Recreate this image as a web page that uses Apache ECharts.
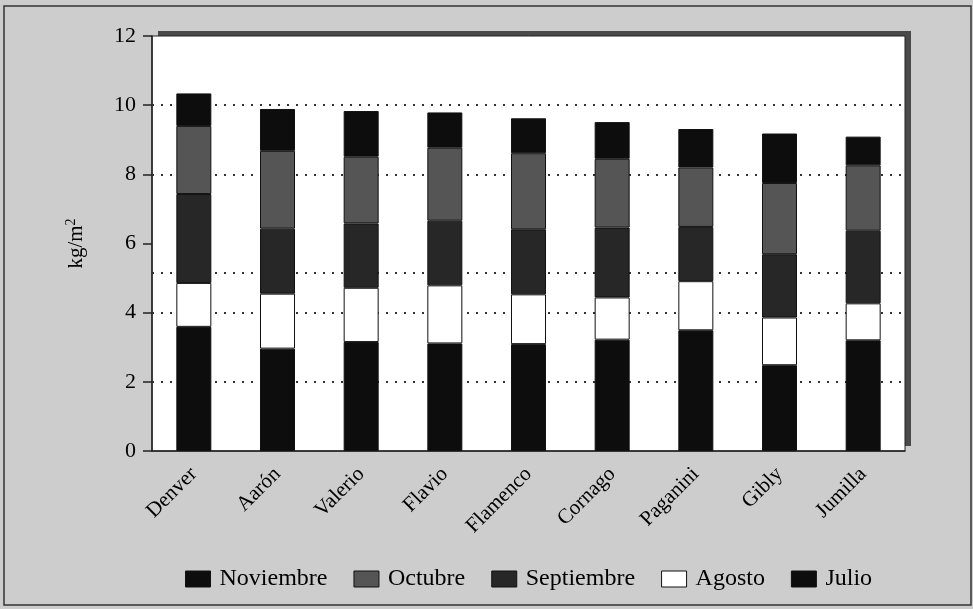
<!DOCTYPE html>
<html><head><meta charset="utf-8">
<script src="https://cdn.jsdelivr.net/npm/echarts@6/dist/echarts.min.js"></script>
<style>html,body{margin:0;padding:0;background:#cdcdcd}#c{width:973px;height:609px}</style>
</head><body><div id="c"></div>
<script>
const categories = ['Denver','Aarón','Valerio','Flavio','Flamenco','Cornago','Paganini','Gibly','Jumilla'];
const julio      = [3.59, 2.96, 3.15, 3.11, 3.09, 3.22, 3.49, 2.48, 3.20];
const agosto     = [1.27, 1.59, 1.57, 1.68, 1.44, 1.22, 1.42, 1.38, 1.07];
const septiembre = [2.57, 1.88, 1.86, 1.87, 1.88, 2.02, 1.57, 1.83, 2.10];
const octubre    = [1.97, 2.25, 1.93, 2.11, 2.20, 1.99, 1.72, 2.06, 1.89];
const noviembre  = [0.94, 1.21, 1.32, 1.02, 1.01, 1.06, 1.11, 1.43, 0.83];
const yTicks = [0, 2, 4, 6, 8, 10, 12];
const gridValues = [2, 4, 5.15, 8, 10];
const legendOrder = ['Noviembre','Octubre','Septiembre','Agosto','Julio'];

const font = '"Liberation Serif","DejaVu Serif",serif';
const chart = echarts.init(document.getElementById('c'));
function bar(name, data, color, extra) {
  return Object.assign({
    name, type: 'bar', stack: 't', data, barWidth: 35,
    itemStyle: { color, borderColor: '#111', borderWidth: 1 }
  }, extra || {});
}
chart.setOption({
  backgroundColor: '#cdcdcd',
  animation: false,
  graphic: [
    { type: 'rect', shape: { x: 4, y: 6, width: 967, height: 599 }, style: { fill: 'none', stroke: '#333', lineWidth: 1.5 }, z: -10 },
    { type: 'rect', shape: { x: 158, y: 31, width: 753, height: 415 }, style: { fill: '#4a4a4a' }, z: -5 },
    { type: 'rect', shape: { x: 152, y: 36, width: 753, height: 415 }, style: { fill: '#ffffff', stroke: '#222', lineWidth: 1 }, z: -4 }
  ],
  grid: { left: 152, top: 36, right: 68, bottom: 158 },
  legend: {
    data: legendOrder, left: 180, top: 562, itemWidth: 25, itemGap: 26, itemHeight: 16, icon: 'rect',
    textStyle: { fontFamily: font, fontSize: 24, color: '#000', padding: [0, 0, 0, 4] },
    itemStyle: { borderColor: '#111', borderWidth: 1 }
  },
  xAxis: {
    type: 'category', data: categories,
    axisLine: { lineStyle: { color: '#222', width: 1.5 } },
    axisTick: { length: 11, lineStyle: { color: '#222', width: 1.5 } },
    axisLabel: { rotate: 45, fontFamily: font, fontSize: 21, color: '#000', margin: 20 }
  },
  yAxis: {
    type: 'value', min: 0, max: 12, interval: 2,
    name: '{a|kg/m}{s|2}', nameLocation: 'middle', nameGap: 64, nameRotate: 90,
    nameTextStyle: { rich: { a: { fontFamily: font, fontSize: 21, color: '#000' }, s: { fontFamily: font, fontSize: 14, color: '#000', verticalAlign: 'top', padding: [0,0,10,0] } } },
    axisLine: { show: true, lineStyle: { color: '#222', width: 1.5 } },
    axisTick: { show: true, length: 9, lineStyle: { color: '#222', width: 1.5 } },
    axisLabel: { fontFamily: font, fontSize: 22, color: '#000', margin: 16, formatter: v => yTicks.includes(v) ? String(v) : '' },
    splitLine: { show: false }
  },
  series: [
    bar('Julio', julio, '#0d0d0d', {
      markLine: {
        silent: true, symbol: 'none', z: 1, label: { show: false },
        lineStyle: { color: '#333', type: [2, 7], width: 2 },
        data: gridValues.map(v => ({ yAxis: v }))
      }
    }),
    bar('Agosto', agosto, '#ffffff'),
    bar('Septiembre', septiembre, '#272727'),
    bar('Octubre', octubre, '#555555'),
    bar('Noviembre', noviembre, '#0d0d0d')
  ]
});
</script></body></html>
